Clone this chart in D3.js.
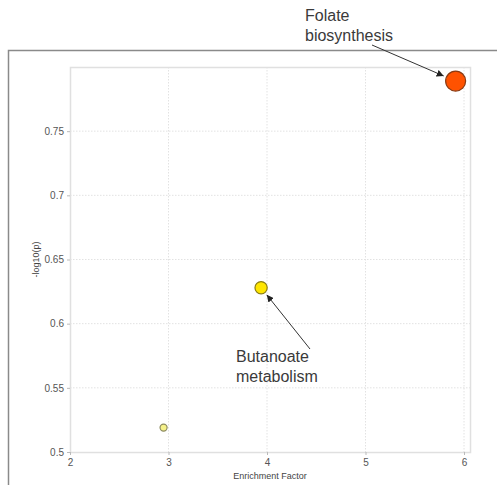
<!DOCTYPE html>
<html>
<head>
<meta charset="utf-8">
<script src="https://cdn.jsdelivr.net/npm/d3@7"></script>
<style>
  body { margin: 0; background: #fff; }
  svg { display: block; font-family: "Liberation Sans", Arial, sans-serif; }
</style>
</head>
<body>
<div id="vizcont"></div>
<script>
// pathway enrichment values
var pathways = ["", "Butanoate metabolism", "Folate biosynthesis"];
var enrichment = [2.95, 3.94, 5.915];
var logP = [0.519, 0.628, 0.789];
var hits = [1, 3, 8];
var fills = ["#f6f28a", "#ffe600", "#ff5200"];
var strokes = ["#8e8c60", "#8a7c10", "#8a3a12"];
var xTicks = [2, 3, 4, 5, 6];
var yTicks = [0.5, 0.55, 0.6, 0.65, 0.7, 0.75];

var width = 497, height = 485;
var plot = {left: 70, top: 67, right: 470, bottom: 452};

var svg = d3.select("#vizcont")
    .append("svg")
    .attr("width", width)
    .attr("height", height);

// arrow marker
svg.append("defs").append("marker")
    .attr("id", "arr")
    .attr("viewBox", "0 0 10 10")
    .attr("refX", 10).attr("refY", 5)
    .attr("markerWidth", 7).attr("markerHeight", 7)
    .attr("markerUnits", "userSpaceOnUse")
    .attr("orient", "auto")
    .append("path")
    .attr("d", "M0,0L10,5L0,10z")
    .style("fill", "#222");

// outer frame (top + left edges)
svg.append("path")
    .attr("d", "M8.5,485V50.5H497")
    .attr("fill", "none")
    .attr("stroke", "#8a8a8a")
    .style("stroke-width", "1.5px");

var x = d3.scaleLinear()
    .domain([2, 2 + (plot.right - plot.left) / 98.5])
    .range([plot.left, plot.right]);
var y = d3.scaleLinear()
    .domain([0.5, 0.8])
    .range([plot.bottom, plot.top]);
var r = d3.scaleSqrt()
    .domain([0, d3.max(hits)])
    .range([0, 10]);

// grid
svg.append("g").selectAll("line.gx")
    .data(xTicks.slice(1))
    .enter().append("line")
    .attr("x1", function(d) { return x(d); })
    .attr("x2", function(d) { return x(d); })
    .attr("y1", plot.top).attr("y2", plot.bottom)
    .attr("stroke", "#e2e2e2")
    .style("stroke-dasharray", "1.5,1.5");
svg.append("g").selectAll("line.gy")
    .data(yTicks.slice(1))
    .enter().append("line")
    .attr("x1", plot.left).attr("x2", plot.right)
    .attr("y1", function(d) { return y(d); })
    .attr("y2", function(d) { return y(d); })
    .attr("stroke", "#e2e2e2")
    .style("stroke-dasharray", "1.5,1.5");

// plot border
svg.append("rect")
    .attr("x", plot.left + 0.5).attr("y", plot.top + 0.5)
    .attr("width", plot.right - plot.left)
    .attr("height", plot.bottom - plot.top)
    .attr("fill", "none")
    .attr("stroke", "#e0e0e0")
    .style("stroke-width", "1.5px");

// axes
var xAxis = svg.append("g")
    .attr("transform", "translate(0," + plot.bottom + ")")
    .call(d3.axisBottom(x).tickValues(xTicks).tickSize(3).tickFormat(d3.format("d")));
var yAxis = svg.append("g")
    .attr("transform", "translate(" + plot.left + ",0)")
    .call(d3.axisLeft(y).tickValues(yTicks).tickSize(3).tickFormat(function(d) { return String(+d.toFixed(2)); }));
[xAxis, yAxis].forEach(function(a) {
  a.select(".domain").remove();
  a.selectAll(".tick line").attr("stroke", "#bbb");
  a.selectAll(".tick text")
      .style("font-size", "10px")
      .style("fill", "#555");
});
xAxis.selectAll(".tick text").attr("dy", "0.8em");

svg.append("text")
    .attr("x", (plot.left + plot.right) / 2)
    .attr("y", 479)
    .attr("text-anchor", "middle")
    .style("font-size", "9px")
    .style("fill", "#444")
    .text("Enrichment Factor");
svg.append("text")
    .attr("transform", "translate(39," + (plot.top + plot.bottom) / 2 + ") rotate(-90)")
    .attr("text-anchor", "middle")
    .style("font-size", "9px")
    .style("fill", "#444")
    .text("-log10(p)");

// bubbles
var idx = d3.range(pathways.length);
svg.append("g").selectAll("circle")
    .data(idx)
    .enter().append("circle")
    .attr("cx", function(i) { return x(enrichment[i]); })
    .attr("cy", function(i) { return y(logP[i]); })
    .attr("r", function(i) { return r(hits[i]); })
    .style("fill", function(i) { return fills[i]; })
    .style("stroke", function(i) { return strokes[i]; })
    .style("stroke-width", "1.2px");

// annotations
function note(lines, tx, ty, ax, ay, i) {
  var t = svg.append("text")
      .attr("x", tx).attr("y", ty)
      .style("font-size", "16px")
      .style("fill", "#3a3a3a");
  lines.forEach(function(s, k) {
    t.append("tspan").attr("x", tx).attr("dy", k ? 20 : 0).text(s);
  });
  var cx = x(enrichment[i]), cy = y(logP[i]), rr = r(hits[i]) + 3;
  var dx = ax - cx, dy = ay - cy, len = Math.sqrt(dx * dx + dy * dy);
  svg.append("line")
      .attr("x1", ax).attr("y1", ay)
      .attr("x2", cx + dx / len * rr).attr("y2", cy + dy / len * rr)
      .attr("stroke", "#333")
      .style("stroke-width", "1px")
      .attr("marker-end", "url(#arr)");
}
note(["Folate", "biosynthesis"], 305, 21, 372, 45, 2);
note(["Butanoate", "metabolism"], 236, 362, 310, 349, 1);
</script>
</body>
</html>
